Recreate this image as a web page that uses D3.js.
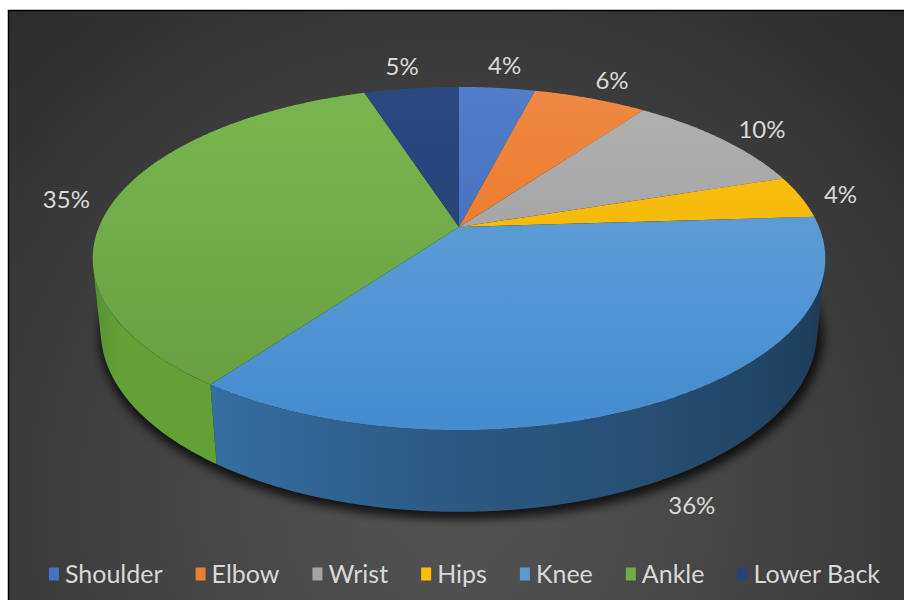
<!DOCTYPE html>
<html>
<head>
<meta charset="utf-8">
<script src="https://cdn.jsdelivr.net/npm/d3@7"></script>
<style>
  html, body { margin: 0; padding: 0; background: #ffffff; }
  svg { display: block; }
  text { font-family: Lato, "Open Sans", sans-serif; }
</style>
</head>
<body>
<svg id="chart" width="904" height="600"></svg>
<script>
// ---- data ----
const categories = ["Shoulder", "Elbow", "Wrist", "Hips", "Knee", "Ankle", "Lower Back"];
const shares = [4, 6, 10, 4, 36, 35, 5];
const palette = ["#4472C4", "#ED7D31", "#A5A5A5", "#FFC000", "#5B9BD5", "#70AD47", "#264478"];
const labelText = shares.map(v => v + "%");

// ---- setup ----
const svg = d3.select("#chart");
const defs = svg.append("defs");

// dark radial backdrop with a thin black frame
const bg = defs.append("radialGradient")
  .attr("id", "bg").attr("gradientUnits", "userSpaceOnUse")
  .attr("cx", 456).attr("cy", 500).attr("r", 700);
bg.append("stop").attr("offset", 0).attr("stop-color", "#545454");
bg.append("stop").attr("offset", 0.5).attr("stop-color", "#414141");
bg.append("stop").attr("offset", 1).attr("stop-color", "#2a2a2a");

svg.append("rect")
  .attr("x", 8.5).attr("y", 10.5).attr("width", 910).attr("height", 610)
  .attr("fill", "url(#bg)").attr("stroke", "#000").attr("stroke-width", 1.5);

// ---- 3D perspective camera for a unit disc ----
const cam = { cx: 459, cy: 227, focal: 1739, dist: 4.83, tilt: Math.asin(0.4605), thick: 0.228 };
const sT = Math.sin(cam.tilt), cT = Math.cos(cam.tilt);

// angle a: clockwise from 12 o'clock (the far side of the disc); h: height (0 = top face)
function project(r, a, h) {
  const x = r * Math.sin(a), z = -r * Math.cos(a);
  const depth = cam.dist - h * sT - z * cT;
  const up = h * cT - z * sT;
  return [cam.cx + cam.focal * x / depth, cam.cy - cam.focal * up / depth];
}
function rim(a0, a1, h, r = 1) {
  const n = Math.max(2, Math.ceil(Math.abs(a1 - a0) / (Math.PI / 360)));
  return d3.range(n + 1).map(i => project(r, a0 + (a1 - a0) * i / n, h));
}
const line = d3.line();
const apex = project(0, 0, 0);

const arcs = d3.pie().sort(null).value(d => d)(shares);

// the outer wall faces the camera only in this angular window
const visA = Math.acos(-1 / (cam.dist * cT));
const visB = 2 * Math.PI - visA;
const deg = a => a * 180 / Math.PI;

// ---- soft drop shadow under the disc ----
const blur = defs.append("filter").attr("id", "shadowBlur")
  .attr("x", "-20%").attr("y", "-20%").attr("width", "140%").attr("height", "140%");
blur.append("feGaussianBlur").attr("stdDeviation", 5);

svg.append("path")
  .attr("d", line(rim(0, 2 * Math.PI, -cam.thick, 1.01)) + "Z")
  .attr("transform", "translate(2,5)")
  .attr("fill", "#000").attr("opacity", 0.75)
  .attr("filter", "url(#shadowBlur)");

// ---- outer walls: lit from the front-left, darker toward the right ----
const wallLightness = d3.scaleLinear()
  .domain([deg(visA), 180, 216, 240, deg(visB)])
  .range([0.22, 0.34, 0.42, 0.42, 0.36]);

function tint(base, l) {
  const c = d3.hsl(base);
  c.l = l;
  c.s = Math.min(c.s * 1.2, 0.5);
  return c.formatHex();
}
function shade(base, f) {
  const c = d3.hsl(base);
  c.l = Math.min(1, c.l * f);
  return c.formatHex();
}

const walls = svg.append("g");
arcs.forEach((d, i) => {
  const a0 = Math.max(d.startAngle, visA), a1 = Math.min(d.endAngle, visB);
  if (a1 <= a0) return;
  const top = rim(a0, a1, 0);
  const bottom = rim(a0, a1, -cam.thick).reverse();
  const x1 = top[0][0], x2 = top[top.length - 1][0];
  const g = defs.append("linearGradient").attr("id", "wall" + i)
    .attr("gradientUnits", "userSpaceOnUse")
    .attr("x1", x1).attr("y1", 0).attr("x2", x2).attr("y2", 0);
  d3.range(9).forEach(k => {
    const a = a0 + (a1 - a0) * k / 8;
    const sx = project(1, a, 0)[0];
    g.append("stop")
      .attr("offset", (sx - x1) / (x2 - x1))
      .attr("stop-color", tint(palette[i], wallLightness(deg(a))));
  });
  walls.append("path")
    .attr("d", line(top.concat(bottom)) + "Z")
    .attr("fill", `url(#wall${i})`);
});

// ---- top faces ----
const topY0 = project(1, 0, 0)[1], topY1 = project(1, Math.PI, 0)[1];
const tops = svg.append("g");
arcs.forEach((d, i) => {
  const g = defs.append("linearGradient").attr("id", "top" + i)
    .attr("gradientUnits", "userSpaceOnUse")
    .attr("x1", 0).attr("y1", topY0).attr("x2", 0).attr("y2", topY1);
  g.append("stop").attr("offset", 0).attr("stop-color", shade(palette[i], 1.07));
  g.append("stop").attr("offset", 1).attr("stop-color", shade(palette[i], 0.9));
  tops.append("path")
    .attr("d", line([apex].concat(rim(d.startAngle, d.endAngle, 0))) + "Z")
    .attr("fill", `url(#top${i})`);
});

// ---- data labels (outside end) ----
const labelSize = 24;
const labelR = 1.055;
const boxH = 34;
const padX = 4, padY = 29;

const labelG = svg.append("g")
  .attr("font-size", labelSize).attr("fill", "#d9d9d9").attr("text-anchor", "middle");

const labels = arcs.map((d, i) => {
  const t = labelG.append("text").text(labelText[i]);
  return { i, node: t, angle: (d.startAngle + d.endAngle) / 2, w: t.node().getComputedTextLength() + 10, h: boxH };
});

function place(lb) {
  const a = lb.angle;
  const frontWall = a > visA && a < visB && Math.cos(a) < -0.5;
  const A = project(labelR, a, frontWall ? -cam.thick : 0);
  const dx = A[0] - apex[0], dy = A[1] - apex[1];
  const len = Math.hypot(dx, dy);
  lb.x = A[0] + (dx / len) * lb.w / 2;
  lb.y = A[1] + (dy / len) * lb.h / 2;
}
labels.forEach(place);

function overlap(a, b) {
  return Math.abs(a.x - b.x) < (a.w + b.w) / 2 + padX &&
         Math.abs(a.y - b.y) < (a.h + b.h) / 2 + padY;
}
// crowded labels slide counter-clockwise along their path until clear
const byAngle = labels.slice().sort((a, b) => a.angle - b.angle);
for (let k = byAngle.length - 2; k >= 0; k--) {
  const cur = byAngle[k], next = byAngle[k + 1];
  let guard = 0;
  while (overlap(cur, next) && guard++ < 200) { cur.angle -= Math.PI / 360; place(cur); }
}

labels.forEach(lb => {
  lb.node.attr("x", lb.x).attr("y", lb.y + labelSize * 0.36);
});

// ---- legend ----
const legendSize = 25;
const legend = svg.append("g").attr("font-size", legendSize).attr("fill", "#d9d9d9");
const keyW = 10, keyH = 13, keyGap = 6, itemGap = 33;
const items = categories.map((c, i) => {
  const g = legend.append("g");
  g.append("rect").attr("width", keyW).attr("height", keyH).attr("y", -keyH / 2).attr("fill", palette[i]);
  const t = g.append("text").attr("x", keyW + keyGap).attr("y", legendSize * 0.36).text(c);
  return { g, w: keyW + keyGap + t.node().getComputedTextLength() };
});
const total = d3.sum(items, d => d.w) + itemGap * (items.length - 1);
let lx = 464.5 - total / 2;
items.forEach(it => {
  it.g.attr("transform", `translate(${lx},574)`);
  lx += it.w + itemGap;
});
</script>
</body>
</html>
